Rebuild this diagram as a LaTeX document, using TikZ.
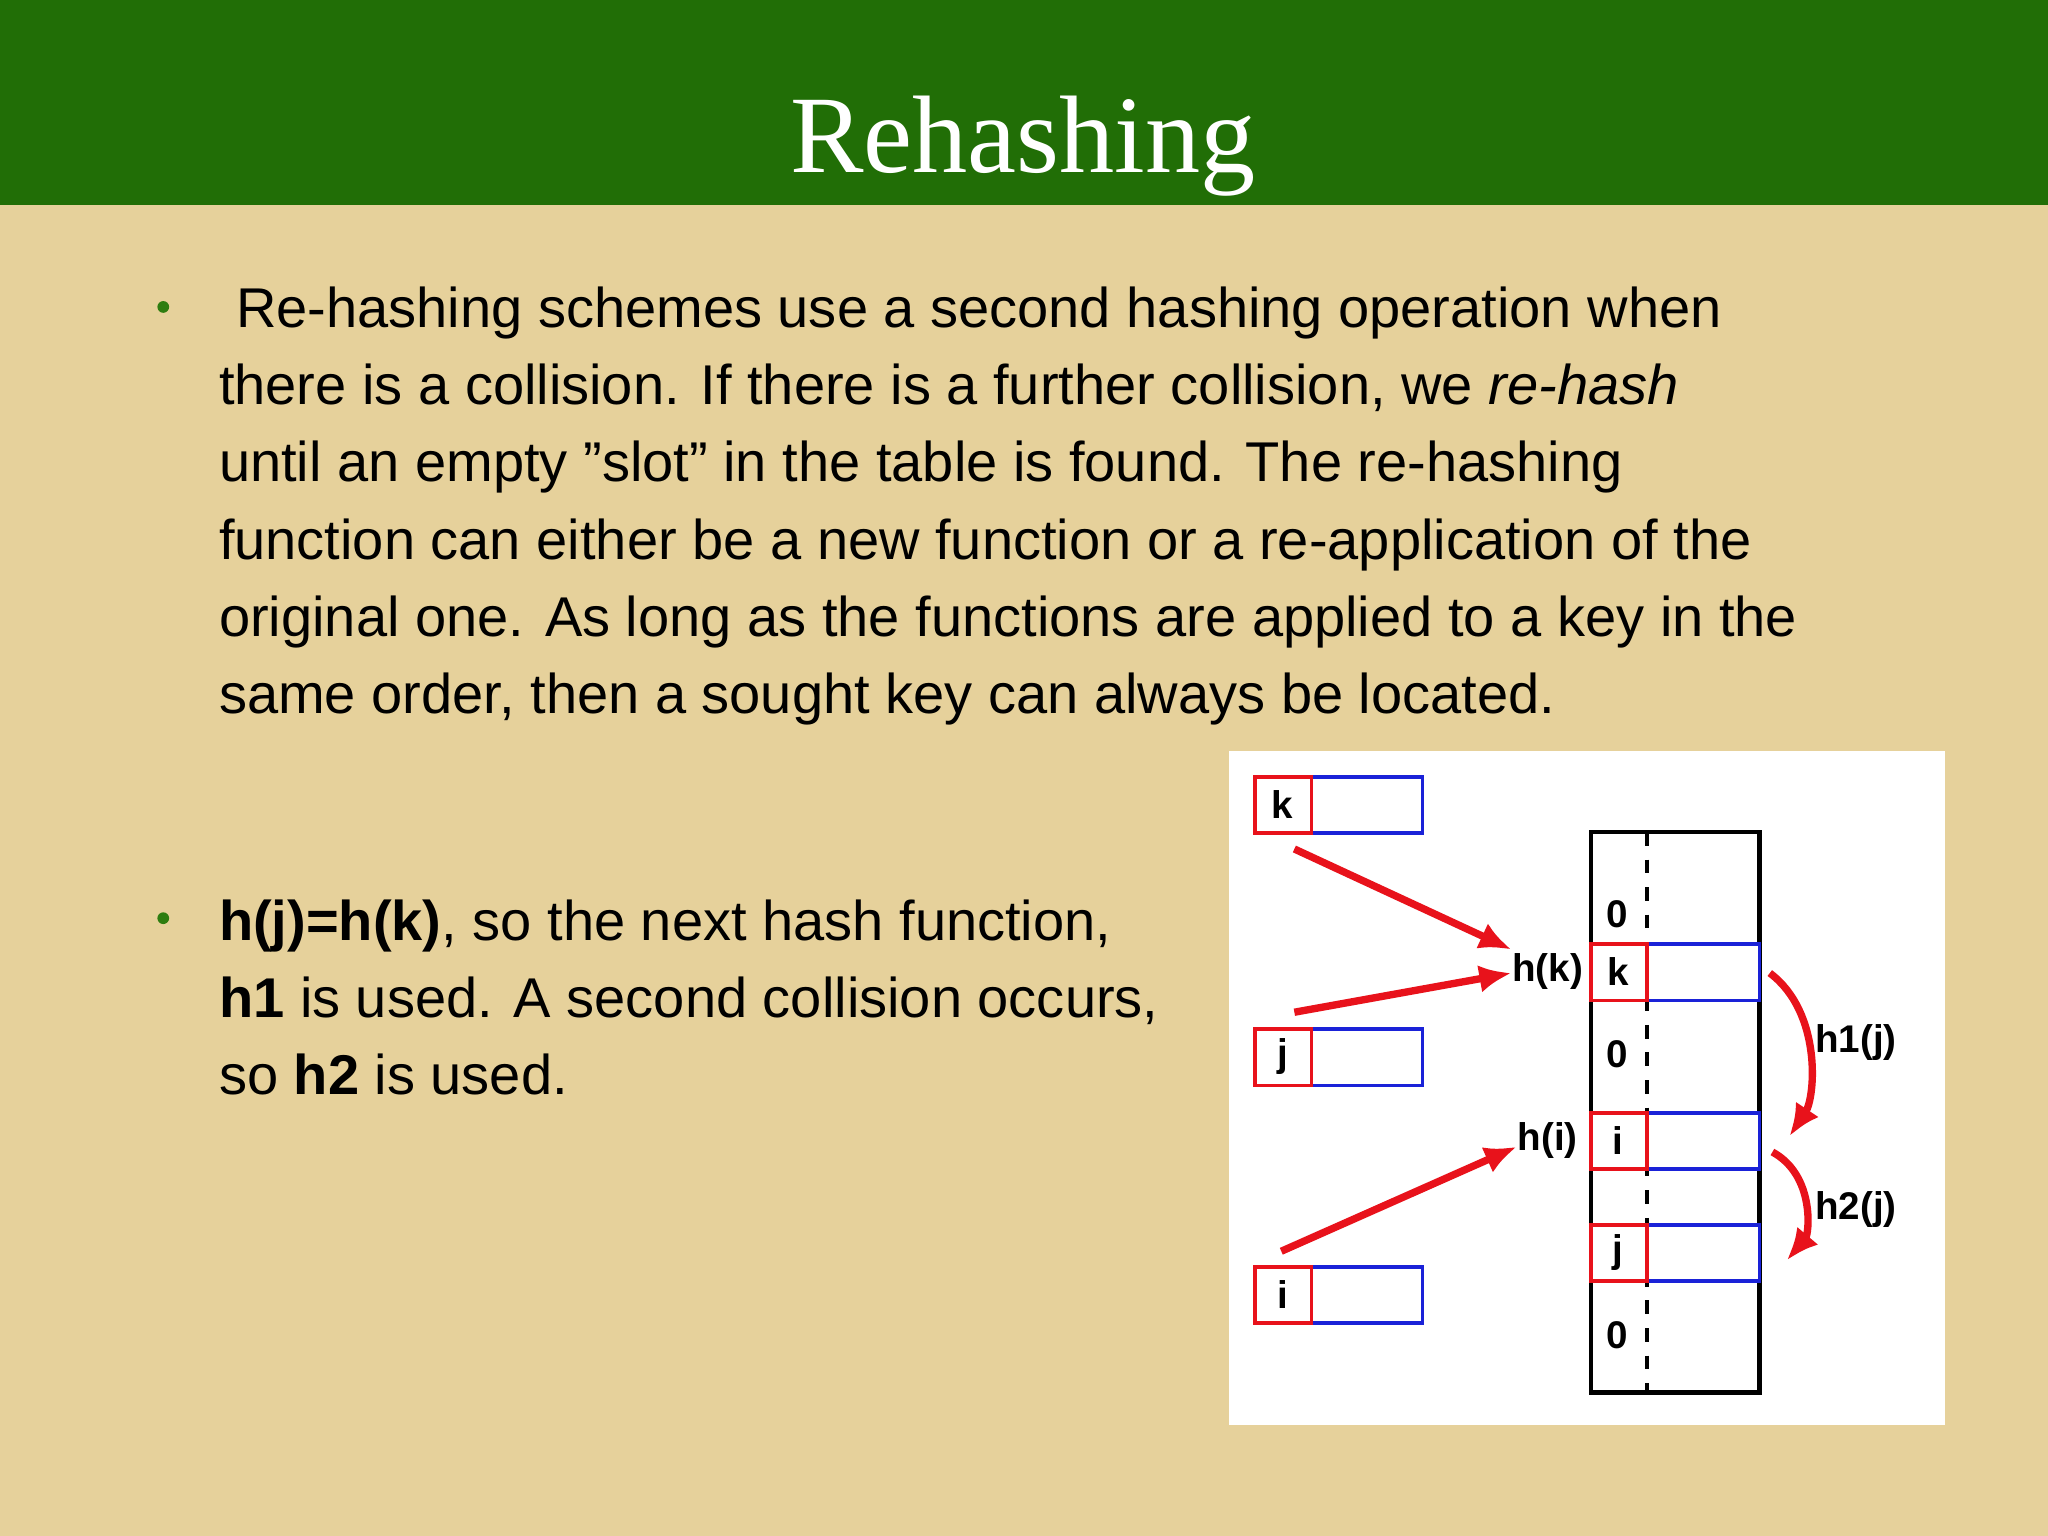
\documentclass[tikz,border=0pt]{standalone}
\usepackage{fontspec}
\setmainfont{Liberation Sans}
\newfontfamily\titlefont{Liberation Serif}
\usetikzlibrary{arrows.meta}
\definecolor{bg}{HTML}{E6D19B}
\definecolor{hdr}{HTML}{216E06}
\definecolor{bul}{HTML}{2E7D10}
\definecolor{rd}{HTML}{E8121B}
\definecolor{bl}{HTML}{1A22D8}
\tikzset{
 txt/.style={anchor=base west,inner sep=0,font=\fontsize{12.2pt}{14pt}\selectfont},
 lab/.style={inner sep=0,font=\bfseries\fontsize{8.4pt}{10pt}\selectfont},
 rcell/.style={draw=rd,line width=0.8pt},
 bcell/.style={draw=bl,line width=0.8pt},
 rarr/.style={draw=rd,line width=1.6pt,-{Latex[length=7pt,width=6pt]}},
}
\begin{document}
\begin{tikzpicture}[x=0.01cm,y=-0.01cm]
\fill[bg] (0,0) rectangle (1568,1176);
\fill[hdr] (0,0) rectangle (1568,157);
\node[text=white,font=\titlefont\fontsize{24pt}{28pt}\selectfont] (title) at (783,112) {Rehashing};
\fill[bul] (125,235) circle (4.5);
\fill[bul] (125,703) circle (4.5);
\node[txt] (l1) at (180,251) {Re-hashing schemes use a second hashing operation when};
\node[txt] (l2) at (167,310) {there is a collision. If there is a further collision, we \textit{re-hash}};
\node[txt] (l3) at (167,369) {until an empty "slot" in the table is found. The re-hashing};
\node[txt] (l4) at (167,428) {function can either be a new function or a re-application of the};
\node[txt] (l5) at (167,487) {original one. As long as the functions are applied to a key in the};
\node[txt] (l6) at (167,546) {same order, then a sought key can always be located.};
\node[txt] (m1) at (167,720) {\textbf{h(j)=h(k)}, so the next hash function,};
\node[txt] (m2) at (167,779) {\textbf{h1} is used. A second collision occurs,};
\node[txt] (m3) at (167,838) {so \textbf{h2} is used.};
% panel
\fill[white] (941,575) rectangle (1489,1091);
% key boxes
\foreach \n/\t/\y in {bk/k/595,bj/j/788,bi/i/970}{
 \draw[bcell] (1004,\y) rectangle (1089,\y+43);
 \draw[rcell] (961,\y) rectangle (1004,\y+43);
 \node[lab] (\n) at (982,\y+21) {\t};
}
% table
\draw[line width=1pt] (1218,637) rectangle (1347,1066);
\draw[dashed,line width=0.8pt] (1261,637) -- (1261,1066);
\draw[line width=0.8pt] (1218,895) -- (1347,895);
\foreach \n/\t/\y in {tk/k/723,ti/i/852,tj/j/938}{
 \fill[white] (1219,\y) rectangle (1346,\y+43);
 \draw[bcell] (1261,\y) rectangle (1347,\y+43);
 \draw[rcell] (1218,\y) rectangle (1261,\y+43);
 \node[lab] (\n) at (1239,\y+21) {\t};
}
\node[lab] (z1) at (1238,700) {0};
\node[lab] (z2) at (1238,807) {0};
\node[lab] (z3) at (1238,1022) {0};
\node[lab] (hk) at (1185,744) {h(k)};
\node[lab] (hi) at (1185,873) {h(i)};
\node[lab] (h1) at (1421,798) {h1(j)};
\node[lab] (h2) at (1421,926) {h2(j)};
\coordinate (a1) at (991,650); \coordinate (a2) at (991,775); \coordinate (a3) at (981,958);
\draw[rarr] (a1) -- (hk.west|-0,727);
\draw[rarr] (a2) -- (hk.west|-0,745);
\draw[rarr] (a3) -- (hi.west|-0,878);
\coordinate (c1) at (1355,745); \coordinate (c2) at (1370,870);
\coordinate (c3) at (1357,882); \coordinate (c4) at (1368,965);
\draw[rarr] (c1) .. controls (1395,775) and (1390,840) .. (c2);
\draw[rarr] (c3) .. controls (1390,900) and (1385,945) .. (c4);
\end{tikzpicture}
\end{document}
